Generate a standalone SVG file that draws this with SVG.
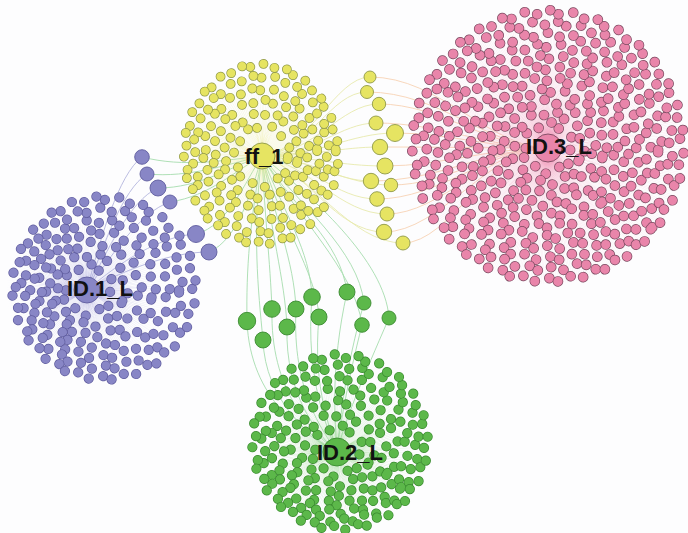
<svg xmlns="http://www.w3.org/2000/svg" width="688" height="533" viewBox="0 0 688 533">
<defs>
<radialGradient id="sPu" gradientUnits="userSpaceOnUse" cx="87" cy="290" r="82"><stop offset="0" stop-color="#b4b2e0" stop-opacity="0.95"/><stop offset="1" stop-color="#b4b2e0" stop-opacity="0"/></radialGradient>
<radialGradient id="sYe" gradientUnits="userSpaceOnUse" cx="262" cy="156" r="80"><stop offset="0" stop-color="#eceb96" stop-opacity="0.95"/><stop offset="1" stop-color="#eceb96" stop-opacity="0"/></radialGradient>
<radialGradient id="sGr" gradientUnits="userSpaceOnUse" cx="337" cy="452" r="82"><stop offset="0" stop-color="#9ed894" stop-opacity="0.95"/><stop offset="1" stop-color="#9ed894" stop-opacity="0"/></radialGradient>
<radialGradient id="sPk" gradientUnits="userSpaceOnUse" cx="548" cy="148" r="136"><stop offset="0" stop-color="#f2a2c0" stop-opacity="0.95"/><stop offset="1" stop-color="#f2a2c0" stop-opacity="0.25"/></radialGradient>
</defs>
<style>
circle,ellipse{fill:none}
.a,.b{stroke-linecap:round}
.a{stroke-dasharray:0 1.8 0 2.2}
.b{stroke-dasharray:0 2.1 0 1.9;stroke-dashoffset:1}
.pu-o{stroke:#605d9f;stroke-width:10.2}.pu-f{stroke:#8886c6;stroke-width:8.8}
.ye-o{stroke:#8f9848;stroke-width:9.8}.ye-f{stroke:#e6e462;stroke-width:8.4}
.gr-o{stroke:#3a8a30;stroke-width:10.2}.gr-f{stroke:#5cb84a;stroke-width:8.8}
.pk-o{stroke:#7a4a60;stroke-width:10.6}.pk-f{stroke:#e985aa;stroke-width:9.2}
.sp{stroke-dasharray:0.25 0.75}
.pb{fill:#8886c6;stroke:#605d9f;stroke-width:0.9}
.yb{fill:#e6e462;stroke:#8f9848;stroke-width:0.9}
.gb{fill:#5cb84a;stroke:#3a8a30;stroke-width:0.9}
.pkb{fill:#e985aa;stroke:#7a4a60;stroke-width:0.9}
.lbl{font-family:"Liberation Sans",Arial,sans-serif;font-weight:bold;font-size:22px;fill:#111;text-anchor:middle}
path{fill:none;stroke-width:0.9}
.cp1{stroke:#b3b6de}
.cg{stroke:#a6dcae}
.cy{stroke:#e8eaae}
.co{stroke:#f7d2b4}
</style>
<rect width="688" height="533" fill="#fdfdfe"/>

<g id="connectors">
<path class="cp1" d="M142,157 C118,175 100,240 87,290"/>
<path class="cp1" d="M147,174 C122,190 104,245 87,290"/>
<path class="cp1" d="M158,188 C130,200 108,250 87,290"/>
<path class="cp1" d="M170,202 C140,212 112,255 87,290"/>
<path class="cp1" d="M196,234 C160,236 120,262 87,290"/>
<path class="cp1" d="M209,252 C170,252 125,270 87,290"/>
<path class="cg" d="M142,157 C185,168 225,160 262,156"/>
<path class="cg" d="M147,174 C190,178 228,164 262,156"/>
<path class="cg" d="M158,188 C200,188 232,166 262,156"/>
<path class="cg" d="M170,202 C210,196 236,170 262,156"/>
<path class="cg" d="M196,234 C228,226 246,180 262,156"/>
<path class="cg" d="M209,252 C238,240 252,190 262,156"/>
<path class="cy" d="M262,156 C310,150 335,77 370,77"/>
<path class="cy" d="M262,156 C310,152 330,92 367,92"/>
<path class="cy" d="M262,156 C315,154 340,104 379,104"/>
<path class="cy" d="M262,156 C315,155 340,123 376,123"/>
<path class="cy" d="M262,156 C320,156 350,133 395,133"/>
<path class="cy" d="M262,156 C315,156 340,147 380,147"/>
<path class="cy" d="M262,156 C315,157 340,166 385,166"/>
<path class="cy" d="M262,156 C310,158 335,181 371,181"/>
<path class="cy" d="M262,156 C315,160 345,185 391,185"/>
<path class="cy" d="M262,156 C310,162 335,199 377,199"/>
<path class="cy" d="M262,156 C310,165 340,214 387,214"/>
<path class="cy" d="M262,156 C305,168 335,232 384,232"/>
<path class="cy" d="M262,156 C310,172 350,243 403,243"/>
<path class="co" d="M370,77 C440,77 490,148 548,148"/>
<path class="co" d="M367,92 C440,92 490,148 548,148"/>
<path class="co" d="M379,104 C440,104 490,148 548,148"/>
<path class="co" d="M376,123 C440,123 490,148 548,148"/>
<path class="co" d="M395,133 C450,133 490,148 548,148"/>
<path class="co" d="M380,147 C440,147 490,148 548,148"/>
<path class="co" d="M385,166 C440,166 490,148 548,148"/>
<path class="co" d="M371,181 C440,181 490,148 548,148"/>
<path class="co" d="M391,185 C450,185 490,148 548,148"/>
<path class="co" d="M377,199 C440,199 490,148 548,148"/>
<path class="co" d="M387,214 C440,214 490,148 548,148"/>
<path class="co" d="M384,232 C440,232 490,148 548,148"/>
<path class="co" d="M403,243 C450,243 490,148 548,148"/>
<path class="cg" d="M262,156 C250,220 246,270 247,321"/>
<path class="cg" d="M262,156 C265,220 270,260 272,309"/>
<path class="cg" d="M262,156 C252,230 258,290 263,340"/>
<path class="cg" d="M262,156 C270,230 285,280 287,327"/>
<path class="cg" d="M262,156 C275,220 294,260 296,309"/>
<path class="cg" d="M262,156 C285,215 310,250 312,297"/>
<path class="cg" d="M262,156 C280,225 316,270 319,317"/>
<path class="cg" d="M262,156 C295,210 340,240 347,292"/>
<path class="cg" d="M262,156 C300,205 358,250 364,303"/>
<path class="cg" d="M262,156 C295,215 355,270 362,325"/>
<path class="cg" d="M262,156 C310,195 385,260 389,318"/>
<path class="cg" d="M247,321 C250,400 305,435 337,452"/>
<path class="cg" d="M272,309 C270,390 310,430 337,452"/>
<path class="cg" d="M263,340 C265,400 310,438 337,452"/>
<path class="cg" d="M287,327 C285,395 318,435 337,452"/>
<path class="cg" d="M296,309 C292,390 322,430 337,452"/>
<path class="cg" d="M312,297 C305,380 328,430 337,452"/>
<path class="cg" d="M319,317 C312,390 332,432 337,452"/>
<path class="cg" d="M347,292 C330,370 335,420 337,452"/>
<path class="cg" d="M364,303 C345,370 340,420 337,452"/>
<path class="cg" d="M362,325 C348,380 340,425 337,452"/>
<path class="cg" d="M389,318 C362,380 345,420 337,452"/>
</g>

<g id="ID1_leaves">
<circle class="sp" cx="87" cy="290" r="41" stroke-width="82" pathLength="210" stroke="url(#sPu)"/>
<g transform="rotate(5 88 290)"><circle class="a pu-o" cx="88" cy="290" r="22.2" pathLength="12"/><circle class="a pu-f" cx="88" cy="290" r="22.2" pathLength="12"/><circle class="b pu-o" cx="88" cy="290" r="25.8" pathLength="12"/><circle class="b pu-f" cx="88" cy="290" r="25.8" pathLength="12"/></g>
<g transform="rotate(23 91 290)"><circle class="a pu-o" cx="91" cy="290" r="33.2" pathLength="18"/><circle class="a pu-f" cx="91" cy="290" r="33.2" pathLength="18"/><circle class="b pu-o" cx="91" cy="290" r="36.8" pathLength="18"/><circle class="b pu-f" cx="91" cy="290" r="36.8" pathLength="18"/></g>
<g transform="rotate(41 94 289.5)"><circle class="a pu-o" cx="94" cy="289.5" r="44.2" pathLength="24"/><circle class="a pu-f" cx="94" cy="289.5" r="44.2" pathLength="24"/><circle class="b pu-o" cx="94" cy="289.5" r="47.8" pathLength="24"/><circle class="b pu-f" cx="94" cy="289.5" r="47.8" pathLength="24"/></g>
<g transform="rotate(11 97 289)"><circle class="a pu-o" cx="97" cy="289" r="55.2" pathLength="30"/><circle class="a pu-f" cx="97" cy="289" r="55.2" pathLength="30"/><circle class="b pu-o" cx="97" cy="289" r="58.8" pathLength="30"/><circle class="b pu-f" cx="97" cy="289" r="58.8" pathLength="30"/></g>
<g transform="rotate(29 100 289)"><circle class="a pu-o" cx="100" cy="289" r="66.2" pathLength="36"/><circle class="a pu-f" cx="100" cy="289" r="66.2" pathLength="36"/><circle class="b pu-o" cx="100" cy="289" r="69.8" pathLength="36"/><circle class="b pu-f" cx="100" cy="289" r="69.8" pathLength="36"/></g>
<g transform="rotate(3 102 288.5)"><circle class="a pu-o" cx="102" cy="288.5" r="77.2" pathLength="42"/><circle class="a pu-f" cx="102" cy="288.5" r="77.2" pathLength="42"/><circle class="b pu-o" cx="102" cy="288.5" r="80.8" pathLength="42"/><circle class="b pu-f" cx="102" cy="288.5" r="80.8" pathLength="42"/></g>
<g transform="rotate(17 104 288)"><circle class="a pu-o" cx="104" cy="288" r="88.2" pathLength="48"/><circle class="a pu-f" cx="104" cy="288" r="88.2" pathLength="48"/><circle class="b pu-o" cx="104" cy="288" r="91.8" pathLength="48"/><circle class="b pu-f" cx="104" cy="288" r="91.8" pathLength="48"/></g>
</g>

<g id="ff1_leaves">
<circle class="sp" cx="262" cy="156" r="40" stroke-width="80" pathLength="184" stroke="url(#sYe)"/>
<g transform="rotate(7 262 156)"><ellipse class="a ye-o" cx="262" cy="156" rx="25.8" ry="28.8" pathLength="14"/><ellipse class="a ye-f" cx="262" cy="156" rx="25.8" ry="28.8" pathLength="14"/><ellipse class="b ye-o" cx="262" cy="156" rx="28.2" ry="31.2" pathLength="14"/><ellipse class="b ye-f" cx="262" cy="156" rx="28.2" ry="31.2" pathLength="14"/></g>
<g transform="rotate(12 262 155.5)"><ellipse class="a ye-o" cx="262" cy="155.5" rx="35.8" ry="40.8" pathLength="22"/><ellipse class="a ye-f" cx="262" cy="155.5" rx="35.8" ry="40.8" pathLength="22"/><ellipse class="b ye-o" cx="262" cy="155.5" rx="38.2" ry="43.2" pathLength="22"/><ellipse class="b ye-f" cx="262" cy="155.5" rx="38.2" ry="43.2" pathLength="22"/></g>
<g transform="rotate(3 261.5 155)"><ellipse class="a ye-o" cx="261.5" cy="155" rx="45.8" ry="52.8" pathLength="28"/><ellipse class="a ye-f" cx="261.5" cy="155" rx="45.8" ry="52.8" pathLength="28"/><ellipse class="b ye-o" cx="261.5" cy="155" rx="48.2" ry="55.2" pathLength="28"/><ellipse class="b ye-f" cx="261.5" cy="155" rx="48.2" ry="55.2" pathLength="28"/></g>
<g transform="rotate(-4 261.5 155)"><ellipse class="a ye-o" cx="261.5" cy="155" rx="55.8" ry="64.8" pathLength="34"/><ellipse class="a ye-f" cx="261.5" cy="155" rx="55.8" ry="64.8" pathLength="34"/><ellipse class="b ye-o" cx="261.5" cy="155" rx="58.2" ry="67.2" pathLength="34"/><ellipse class="b ye-f" cx="261.5" cy="155" rx="58.2" ry="67.2" pathLength="34"/></g>
<g transform="rotate(2 261 154.5)"><ellipse class="a ye-o" cx="261" cy="154.5" rx="65.8" ry="76.8" pathLength="40"/><ellipse class="a ye-f" cx="261" cy="154.5" rx="65.8" ry="76.8" pathLength="40"/><ellipse class="b ye-o" cx="261" cy="154.5" rx="68.2" ry="79.2" pathLength="40"/><ellipse class="b ye-f" cx="261" cy="154.5" rx="68.2" ry="79.2" pathLength="40"/></g>
<g transform="rotate(-2 261 154)"><ellipse class="a ye-o" cx="261" cy="154" rx="74.8" ry="87.8" pathLength="46"/><ellipse class="a ye-f" cx="261" cy="154" rx="74.8" ry="87.8" pathLength="46"/><ellipse class="b ye-o" cx="261" cy="154" rx="77.2" ry="90.2" pathLength="46"/><ellipse class="b ye-f" cx="261" cy="154" rx="77.2" ry="90.2" pathLength="46"/></g>
</g>

<g id="ID2_leaves">
<circle class="sp" cx="337" cy="452" r="41" stroke-width="82" pathLength="210" stroke="url(#sGr)"/>
<g transform="rotate(9 337.5 451)"><circle class="a gr-o" cx="337.5" cy="451" r="22.2" pathLength="12"/><circle class="a gr-f" cx="337.5" cy="451" r="22.2" pathLength="12"/><circle class="b gr-o" cx="337.5" cy="451" r="25.8" pathLength="12"/><circle class="b gr-f" cx="337.5" cy="451" r="25.8" pathLength="12"/></g>
<g transform="rotate(27 338 449.5)"><circle class="a gr-o" cx="338" cy="449.5" r="33.2" pathLength="18"/><circle class="a gr-f" cx="338" cy="449.5" r="33.2" pathLength="18"/><circle class="b gr-o" cx="338" cy="449.5" r="36.8" pathLength="18"/><circle class="b gr-f" cx="338" cy="449.5" r="36.8" pathLength="18"/></g>
<g transform="rotate(13 338.5 448)"><circle class="a gr-o" cx="338.5" cy="448" r="44.2" pathLength="24"/><circle class="a gr-f" cx="338.5" cy="448" r="44.2" pathLength="24"/><circle class="b gr-o" cx="338.5" cy="448" r="47.8" pathLength="24"/><circle class="b gr-f" cx="338.5" cy="448" r="47.8" pathLength="24"/></g>
<g transform="rotate(31 339 446.5)"><circle class="a gr-o" cx="339" cy="446.5" r="55.2" pathLength="30"/><circle class="a gr-f" cx="339" cy="446.5" r="55.2" pathLength="30"/><circle class="b gr-o" cx="339" cy="446.5" r="58.8" pathLength="30"/><circle class="b gr-f" cx="339" cy="446.5" r="58.8" pathLength="30"/></g>
<g transform="rotate(19 339.5 445)"><circle class="a gr-o" cx="339.5" cy="445" r="65.2" pathLength="36"/><circle class="a gr-f" cx="339.5" cy="445" r="65.2" pathLength="36"/><circle class="b gr-o" cx="339.5" cy="445" r="68.8" pathLength="36"/><circle class="b gr-f" cx="339.5" cy="445" r="68.8" pathLength="36"/></g>
<g transform="rotate(37 340 443.5)"><circle class="a gr-o" cx="340" cy="443.5" r="75.2" pathLength="42"/><circle class="a gr-f" cx="340" cy="443.5" r="75.2" pathLength="42"/><circle class="b gr-o" cx="340" cy="443.5" r="78.8" pathLength="42"/><circle class="b gr-f" cx="340" cy="443.5" r="78.8" pathLength="42"/></g>
<g transform="rotate(4 340 442)"><circle class="a gr-o" cx="340" cy="442" r="84.2" pathLength="48"/><circle class="a gr-f" cx="340" cy="442" r="84.2" pathLength="48"/><circle class="b gr-o" cx="340" cy="442" r="87.8" pathLength="48"/><circle class="b gr-f" cx="340" cy="442" r="87.8" pathLength="48"/></g>
</g>

<g id="ID3_leaves">
<circle class="sp" cx="548" cy="148" r="68" stroke-width="136" pathLength="454" stroke="url(#sPk)"/>
<g transform="rotate(5 548 148)"><circle class="a pk-o" cx="548" cy="148" r="22.2" pathLength="12"/><circle class="a pk-f" cx="548" cy="148" r="22.2" pathLength="12"/><circle class="b pk-o" cx="548" cy="148" r="25.8" pathLength="12"/><circle class="b pk-f" cx="548" cy="148" r="25.8" pathLength="12"/></g>
<g transform="rotate(23 548 148)"><circle class="a pk-o" cx="548" cy="148" r="33.2" pathLength="18"/><circle class="a pk-f" cx="548" cy="148" r="33.2" pathLength="18"/><circle class="b pk-o" cx="548" cy="148" r="36.8" pathLength="18"/><circle class="b pk-f" cx="548" cy="148" r="36.8" pathLength="18"/></g>
<g transform="rotate(41 548 147.5)"><circle class="a pk-o" cx="548" cy="147.5" r="44.2" pathLength="24"/><circle class="a pk-f" cx="548" cy="147.5" r="44.2" pathLength="24"/><circle class="b pk-o" cx="548" cy="147.5" r="47.8" pathLength="24"/><circle class="b pk-f" cx="548" cy="147.5" r="47.8" pathLength="24"/></g>
<g transform="rotate(11 548 147.5)"><circle class="a pk-o" cx="548" cy="147.5" r="55.2" pathLength="30"/><circle class="a pk-f" cx="548" cy="147.5" r="55.2" pathLength="30"/><circle class="b pk-o" cx="548" cy="147.5" r="58.8" pathLength="30"/><circle class="b pk-f" cx="548" cy="147.5" r="58.8" pathLength="30"/></g>
<g transform="rotate(29 548 147)"><circle class="a pk-o" cx="548" cy="147" r="66.2" pathLength="36"/><circle class="a pk-f" cx="548" cy="147" r="66.2" pathLength="36"/><circle class="b pk-o" cx="548" cy="147" r="69.8" pathLength="36"/><circle class="b pk-f" cx="548" cy="147" r="69.8" pathLength="36"/></g>
<g transform="rotate(47 548 147)"><circle class="a pk-o" cx="548" cy="147" r="77.2" pathLength="42"/><circle class="a pk-f" cx="548" cy="147" r="77.2" pathLength="42"/><circle class="b pk-o" cx="548" cy="147" r="80.8" pathLength="42"/><circle class="b pk-f" cx="548" cy="147" r="80.8" pathLength="42"/></g>
<g transform="rotate(17 548 147)"><circle class="a pk-o" cx="548" cy="147" r="88.2" pathLength="48"/><circle class="a pk-f" cx="548" cy="147" r="88.2" pathLength="48"/><circle class="b pk-o" cx="548" cy="147" r="91.8" pathLength="48"/><circle class="b pk-f" cx="548" cy="147" r="91.8" pathLength="48"/></g>
<g transform="rotate(35 548 146.5)"><circle class="a pk-o" cx="548" cy="146.5" r="99.2" pathLength="52"/><circle class="a pk-f" cx="548" cy="146.5" r="99.2" pathLength="52"/><circle class="b pk-o" cx="548" cy="146.5" r="102.8" pathLength="52"/><circle class="b pk-f" cx="548" cy="146.5" r="102.8" pathLength="52"/></g>
<g transform="rotate(3 548 146.5)"><circle class="a pk-o" cx="548" cy="146.5" r="110.2" pathLength="58"/><circle class="a pk-f" cx="548" cy="146.5" r="110.2" pathLength="58"/><circle class="b pk-o" cx="548" cy="146.5" r="113.8" pathLength="58"/><circle class="b pk-f" cx="548" cy="146.5" r="113.8" pathLength="58"/></g>
<g transform="rotate(21 548 146)"><circle class="a pk-o" cx="548" cy="146" r="121.2" pathLength="64"/><circle class="a pk-f" cx="548" cy="146" r="121.2" pathLength="64"/><circle class="b pk-o" cx="548" cy="146" r="124.8" pathLength="64"/><circle class="b pk-f" cx="548" cy="146" r="124.8" pathLength="64"/></g>
<g transform="rotate(39 548 146)"><circle class="a pk-o" cx="548" cy="146" r="132.2" pathLength="70"/><circle class="a pk-f" cx="548" cy="146" r="132.2" pathLength="70"/><circle class="b pk-o" cx="548" cy="146" r="135.8" pathLength="70"/><circle class="b pk-f" cx="548" cy="146" r="135.8" pathLength="70"/></g>
</g>

<g id="p1"><circle class="pb" cx="142" cy="157" r="7.3"/></g>
<g id="p2"><circle class="pb" cx="147" cy="174" r="7"/></g>
<g id="p3"><circle class="pb" cx="158" cy="188" r="8"/></g>
<g id="p4"><circle class="pb" cx="170" cy="202" r="7"/></g>
<g id="p5"><circle class="pb" cx="196" cy="234" r="8.5"/></g>
<g id="p6"><circle class="pb" cx="209" cy="252" r="8"/></g>

<g id="y1"><circle class="yb" cx="370" cy="77" r="6"/></g>
<g id="y2"><circle class="yb" cx="367" cy="92" r="6.5"/></g>
<g id="y3"><circle class="yb" cx="379" cy="104" r="6.7"/></g>
<g id="y4"><circle class="yb" cx="376" cy="123" r="7"/></g>
<g id="y5"><circle class="yb" cx="395" cy="133" r="8.5"/></g>
<g id="y6"><circle class="yb" cx="380" cy="147" r="7.7"/></g>
<g id="y7"><circle class="yb" cx="385" cy="166" r="8"/></g>
<g id="y8"><circle class="yb" cx="371" cy="181" r="7.7"/></g>
<g id="y9"><circle class="yb" cx="391" cy="185" r="6.7"/></g>
<g id="y10"><circle class="yb" cx="377" cy="199" r="7.3"/></g>
<g id="y11"><circle class="yb" cx="387" cy="214" r="7"/></g>
<g id="y12"><circle class="yb" cx="384" cy="232" r="7.7"/></g>
<g id="y13"><circle class="yb" cx="403" cy="243" r="7"/></g>

<g id="g1"><circle class="gb" cx="247" cy="321" r="8.7"/></g>
<g id="g2"><circle class="gb" cx="272" cy="309" r="8.3"/></g>
<g id="g3"><circle class="gb" cx="263" cy="340" r="8"/></g>
<g id="g4"><circle class="gb" cx="287" cy="327" r="8"/></g>
<g id="g5"><circle class="gb" cx="296" cy="309" r="8"/></g>
<g id="g6"><circle class="gb" cx="312" cy="297" r="8.3"/></g>
<g id="g7"><circle class="gb" cx="319" cy="317" r="8"/></g>
<g id="g8"><circle class="gb" cx="347" cy="292" r="8"/></g>
<g id="g9"><circle class="gb" cx="364" cy="303" r="7"/></g>
<g id="g10"><circle class="gb" cx="362" cy="325" r="7.3"/></g>
<g id="g11"><circle class="gb" cx="389" cy="318" r="7"/></g>

<g id="ID1_L"><circle class="pb" cx="87" cy="290" r="13"/><text class="lbl" x="100" y="296">ID.1_L</text></g>
<g id="ff_1"><circle class="yb" cx="262" cy="156" r="13"/><text class="lbl" x="264" y="164">ff_1</text></g>
<g id="ID2_L"><circle class="gb" cx="337" cy="452" r="14"/><text class="lbl" x="350" y="460">ID.2_L</text></g>
<g id="ID3_L"><circle class="pkb" cx="548" cy="148" r="14"/><text class="lbl" x="559" y="154">ID.3_L</text></g>
</svg>
